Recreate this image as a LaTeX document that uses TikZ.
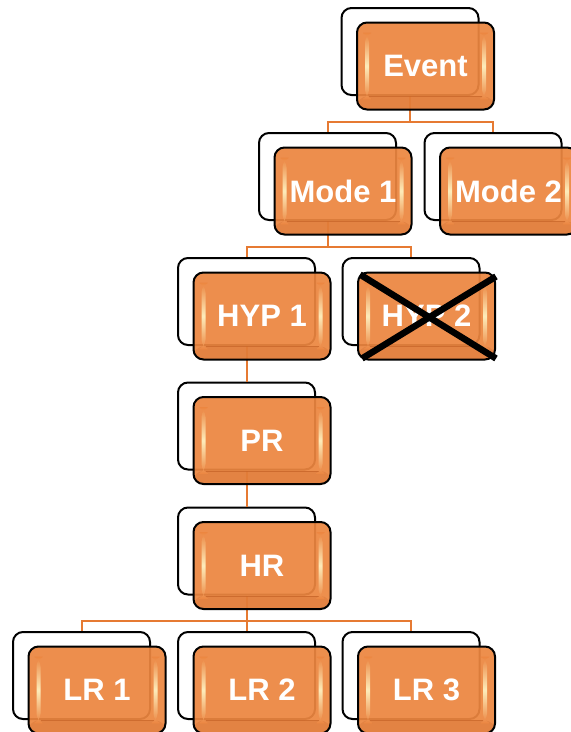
\documentclass[tikz,border=0pt]{standalone}
\usepackage{fontspec}
\setsansfont{Liberation Sans}
\usetikzlibrary{calc}

\definecolor{boxorange}{RGB}{236,134,64}
\definecolor{boxdark}{RGB}{196,98,38}
\definecolor{glow}{RGB}{255,244,196}
\definecolor{linkorange}{RGB}{230,122,50}

\begin{document}
\begin{tikzpicture}[x=1pt,y=1pt,
    backbox/.style={draw=black,line width=2pt,rounded corners=10pt,fill=white,
      minimum width=137pt,minimum height=87pt,inner sep=0pt},
    frontbox/.style={draw=black,line width=2pt,rounded corners=10pt,
      fill=boxorange,fill opacity=0.93,text opacity=1,
      minimum width=137pt,minimum height=87pt,inner sep=0pt,
      text=white,font=\sffamily\bfseries\fontsize{31}{33}\selectfont,
      path picture={
        \coordinate (sw) at (path picture bounding box.south west);
        \coordinate (ne) at (path picture bounding box.north east);
        \fill[boxdark,opacity=0.25] (sw) rectangle ($(sw-|ne)+(0,13)$);
        \draw[boxdark,line width=0.8pt,opacity=0.7]
             ($(sw)+(12,13)$) -- ($(sw-|ne)+(-12,13)$);
        \shade[top color=boxorange,bottom color=boxorange,middle color=glow]
             ($(sw)+(8,10)$) rectangle ($(sw|-ne)+(12,-10)$);
        \shade[top color=boxorange,bottom color=boxorange,middle color=glow]
             ($(sw-|ne)+(-12,10)$) rectangle ($(ne)+(-8,-10)$);
      }},
    link/.style={draw=linkorange,line width=2pt},
    crossline/.style={draw=black,line width=6.5pt}]

  \useasboundingbox (0,0) rectangle (571,-732);
  \clip (0,0) rectangle (571,-732);

  \def\ox{15.5}
  \def\oy{14.5}

  % --- back frames ---
  \foreach \n/\x/\y in {ev/410/51.5, m1/327.5/176.5, m2/493/176.5,
      hy1/246.5/301.5, hy2/411/301.5, pr/246.5/426, hr/246.5/551,
      lr1/81.5/675.5, lr2/246.5/675.5, lr3/411/675.5}
    \node[backbox] (\n-b) at (\x,-\y) {};

  % --- connectors ---
  \foreach \p/\c in {ev/m1, ev/m2, m1/hy1, m1/hy2, hy1/pr, pr/hr,
      hr/lr1, hr/lr2, hr/lr3}
    \draw[link] (\p-b.south) |- ([yshift=10.5pt]\c-b.north) -- (\c-b.north);

  % --- front boxes ---
  \foreach \n/\t in {ev/Event, m1/Mode 1, m2/Mode 2, hy1/HYP 1, hy2/HYP 2,
      pr/PR, hr/HR, lr1/LR 1, lr2/LR 2, lr3/LR 3}
    \node[frontbox] (\n) at ([shift={(\ox,-\oy)}]\n-b.center) {\t};

  % --- rejected hypothesis ---
  \draw[crossline] ([shift={(3,-3)}]hy2.north west) -- ([shift={(0,2)}]hy2.south east);
  \draw[crossline] ([shift={(5,2)}]hy2.south west) -- ([shift={(0,-5)}]hy2.north east);

\end{tikzpicture}
\end{document}
